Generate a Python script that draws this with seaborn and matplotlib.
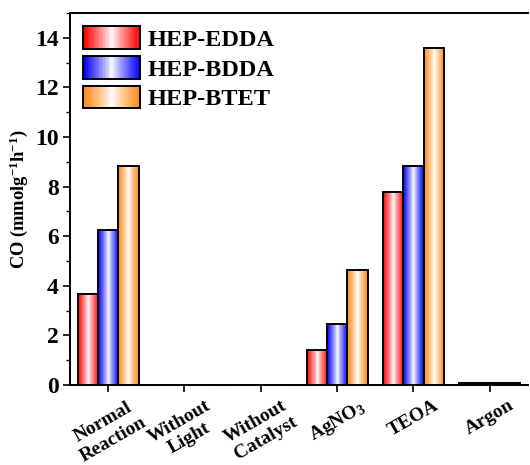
import numpy as np
import pandas as pd
import matplotlib
matplotlib.use("Agg")
import matplotlib.pyplot as plt
import seaborn as sns
from matplotlib.patches import Rectangle
from matplotlib.legend_handler import HandlerBase
from matplotlib.ticker import MultipleLocator

categories = ["Normal\nReaction", "Without\nLight", "Without\nCatalyst",
              r"AgNO$_{\mathbf{3}}$", "TEOA", "Argon"]
series = ["HEP-EDDA", "HEP-BDDA", "HEP-BTET"]
edda = [3.68, 0.0, 0.0, 1.40, 7.80, 0.10]
bdda = [6.25, 0.0, 0.0, 2.48, 8.85, 0.10]
btet = [8.85, 0.0, 0.0, 4.62, 13.60, 0.10]
colors = ["#ff0000", "#0000ff", "#ff8a1a"]

sns.set_style("ticks")
plt.rcParams["font.family"] = ["Liberation Serif", "DejaVu Serif"]
plt.rcParams["font.weight"] = "bold"
plt.rcParams["text.color"] = "black"
plt.rcParams["axes.labelcolor"] = "black"
plt.rcParams["xtick.color"] = "black"
plt.rcParams["ytick.color"] = "black"
plt.rcParams["mathtext.fontset"] = "custom"
plt.rcParams["mathtext.rm"] = "Liberation Serif:bold"
plt.rcParams["mathtext.bf"] = "Liberation Serif:bold"
plt.rcParams["mathtext.it"] = "Liberation Serif:bold:italic"

df = pd.DataFrame({
    "cat": np.repeat(categories, 3),
    "series": series * len(categories),
    "val": np.ravel(np.column_stack([edda, bdda, btet])),
})

fig = plt.figure(figsize=(5.3, 4.65), dpi=100)
ax = fig.add_axes([0.132, 0.172, 0.864, 0.800])
sns.barplot(data=df, x="cat", y="val", hue="series", hue_order=series,
            order=categories, palette=colors, width=0.8, edgecolor="black",
            linewidth=1.4, ax=ax, legend=False, saturation=1)


def grad_rgba(color, n=64):
    c = np.array(matplotlib.colors.to_rgb(color))
    t = np.linspace(0, 1, n)
    f = np.abs(2 * t - 1) ** 0.85
    rgb = 1 - f[:, None] * (1 - c[None, :])
    return rgb[None, :, :]


ax.set_xlim(-0.5, 5.5)
ax.set_ylim(0, 15)
for patch in list(ax.patches):
    x0, y0 = patch.get_x(), patch.get_y()
    w, h = patch.get_width(), patch.get_height()
    col = patch.get_facecolor()
    patch.set_facecolor("none")
    if h <= 0:
        continue
    im = ax.imshow(grad_rgba(col), extent=[x0, x0 + w, y0, y0 + h],
                   aspect="auto", origin="lower", zorder=patch.get_zorder() - 0.1,
                   interpolation="bilinear")
    im.set_clip_path(patch)
ax.set_xlim(-0.5, 5.5)
ax.set_ylim(0, 15)


class GradHandler(HandlerBase):
    def create_artists(self, legend, orig_handle, xdescent, ydescent,
                       width, height, fontsize, trans):
        col = orig_handle.get_facecolor()
        g = grad_rgba(col, 40)[0]
        arts = []
        n = len(g)
        for i in range(n):
            r = Rectangle((-xdescent + i * width / n, -ydescent), width / n * 1.05,
                          height, facecolor=g[i], edgecolor="none", transform=trans)
            arts.append(r)
        arts.append(Rectangle((-xdescent, -ydescent), width, height,
                              facecolor="none", edgecolor="black", lw=1.4,
                              transform=trans))
        return arts


handles = [Rectangle((0, 0), 1, 1, facecolor=c) for c in colors]
ax.legend(handles, series, handler_map={Rectangle: GradHandler()},
          loc="upper left", frameon=False, prop={"weight": "bold", "size": 17.5},
          handlelength=2.35, handleheight=1.07, labelspacing=0.2,
          handletextpad=0.3, borderaxespad=0.15, borderpad=0.4,
          bbox_to_anchor=(0.0, 1.0))

ax.yaxis.set_major_locator(MultipleLocator(2))
ax.yaxis.set_minor_locator(MultipleLocator(1))
ax.tick_params(axis="y", which="major", length=5, width=1.2, labelsize=17, direction="out", pad=3)
ax.tick_params(axis="y", which="minor", length=3, width=1.0, direction="out")
ax.tick_params(axis="x", which="major", length=5, width=1.2, labelsize=14, direction="out")
for lab in ax.get_yticklabels():
    lab.set_fontweight("bold")
ax.set_xticks(range(len(categories)))
ax.set_xticklabels(categories, rotation=30, ha="center", fontweight="bold",
                   multialignment="center")
ax.set_xlabel("")
ax.set_ylabel(r"CO (mmolg$^{-1}$h$^{-1}$)", fontsize=13.3, fontweight="bold", labelpad=4)
for s in ["left", "bottom", "top", "right"]:
    ax.spines[s].set_linewidth(1.4)
    ax.spines[s].set_color("black")
ax.spines["right"].set_visible(False)

fig.savefig("out.png", dpi=100)
